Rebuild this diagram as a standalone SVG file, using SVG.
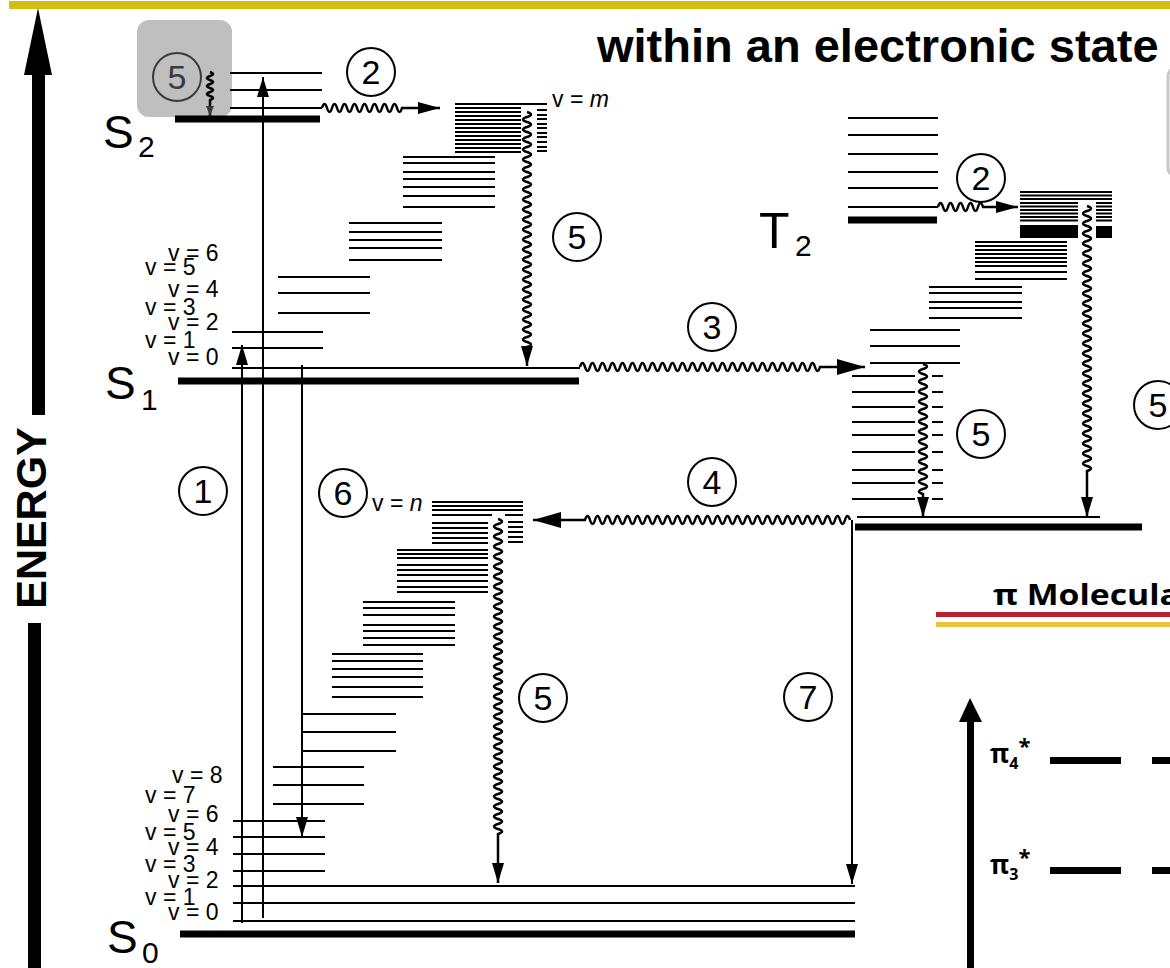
<svg xmlns="http://www.w3.org/2000/svg" width="1170" height="968" viewBox="0 0 1170 968">
<defs>
<style>
.lv{stroke:#000;stroke-width:2;fill:none}
.dn{stroke:#000;stroke-width:2.2;fill:none}
.tk{stroke:#000;stroke-width:7;fill:none}
.wv{stroke:#000;stroke-width:2.5;fill:none}
.ar{stroke:#000;stroke-width:2;fill:none}
.ci{fill:none;stroke:#000;stroke-width:2}
.num{font-family:'Liberation Sans',Arial,sans-serif;font-size:34px;text-anchor:middle;fill:#000}
.vl{font-family:'Liberation Sans',Arial,sans-serif;font-size:23px;fill:#000}
.st{font-family:'Liberation Sans',Arial,sans-serif;font-size:46px;fill:#000}
.sb{font-size:30px}
.hd{font-family:'Liberation Sans',Arial,sans-serif;font-weight:bold;fill:#000}
.pi{font-family:'Open Sans','Noto Sans',sans-serif;font-weight:bold;fill:#000}
</style>
<marker id="a20" viewBox="0 0 20 12" refX="20" refY="6" markerWidth="20" markerHeight="12" markerUnits="userSpaceOnUse" orient="auto"><path d="M0 0L20 6L0 12z" fill="#000"/></marker>
<marker id="a22" viewBox="0 0 22 12" refX="22" refY="6" markerWidth="22" markerHeight="12" markerUnits="userSpaceOnUse" orient="auto"><path d="M0 0L22 6L0 12z" fill="#000"/></marker>
<marker id="a28" viewBox="0 0 28 16" refX="28" refY="8" markerWidth="28" markerHeight="16" markerUnits="userSpaceOnUse" orient="auto"><path d="M0 0L28 8L0 16z" fill="#000"/></marker>
<marker id="a10" viewBox="0 0 10 8" refX="10" refY="4" markerWidth="10" markerHeight="8" markerUnits="userSpaceOnUse" orient="auto"><path d="M0 0L10 4L0 8z" fill="#3a3a3a"/></marker>
</defs>
<rect x="0" y="0" width="1170" height="968" fill="#fff"/>
<rect x="9" y="1" width="1161" height="8" fill="#d4be10"/>

<g id="energy-axis">
<polygon points="38,8 52,75 24,75" fill="#000"/>
<rect x="32" y="74" width="13" height="341" fill="#000"/>
<rect x="28" y="623" width="13" height="345" fill="#000"/>
<text class="hd" font-size="43" text-anchor="middle" transform="translate(46,518) rotate(-90)">ENERGY</text>
</g>

<text id="title" class="hd" x="597" y="62" font-size="47">within an electronic state</text>

<rect id="edge-box" x="1168" y="68" width="30" height="108" rx="8" fill="#fff" stroke="#c8c8c8" stroke-width="3"/>

<g id="S2">
<rect x="137" y="20" width="95" height="97" rx="12" fill="#bfbfbf"/>
<path class="lv" d="M230 73H322M230 90H322M230 108H322"/>
<path class="tk" d="M175 119H320"/>
<text class="st" x="103" y="148">S<tspan class="sb" x="138" y="157">2</tspan></text>
</g>

<g id="S1">
<path class="dn" stroke-width="3" d="M455 104H547"/>
<path class="dn" d="M455 108H521M455 112H521M455 116H521M455 120H521M455 124H521M455 128H521M455 132H521M455 136H521M455 140H521M455 144H521M455 148H521M455 152H521"/>
<path class="dn" d="M537 110H547M537 115H547M537 119H547M537 124H547M537 128H547M537 133H547M537 137H547M537 142H547M537 147H547M537 151H547"/>
<path class="lv" d="M403 157H495M403 163H495M403 172H495M403 179H495M403 187H495M403 196H495M403 207H495"/>
<path class="lv" d="M349 223H442M349 232H442M349 240H442M349 248H442M349 260H442"/>
<path class="lv" d="M278 277H370M278 293H370M278 313H370"/>
<path class="lv" d="M232 332H323M232 348H323M232 368H580"/>
<path class="tk" d="M178 381H579"/>
<text class="st" x="105" y="399">S<tspan class="sb" x="141" y="410">1</tspan></text>
<text class="vl" x="168" y="261">v = 6</text>
<text class="vl" x="145" y="275">v = 5</text>
<text class="vl" x="168" y="297">v = 4</text>
<text class="vl" x="145" y="315">v = 3</text>
<text class="vl" x="168" y="330">v = 2</text>
<text class="vl" x="145" y="348">v = 1</text>
<text class="vl" x="168" y="365">v = 0</text>
<text class="vl" x="552" y="107">v = <tspan font-style="italic">m</tspan></text>
</g>

<g id="S0">
<path class="dn" d="M432 502H523M432 506H523M432 510H523"/>
<path class="dn" stroke-width="3" d="M432 515H492M505 515H523"/>
<path class="dn" d="M432 523H488M432 528H488M432 533H488M432 538H488M432 543H488M508 522H523M508 527H523M508 532H523M508 537H523M508 542H523"/>
<path class="dn" d="M397 550H488M397 554H488M397 558H488M397 565H488M397 570H488M397 575H488M397 581H488M397 587H488M397 592H488"/>
<path class="lv" d="M363 602H455M363 608H455M363 615H455M363 625H455M363 631H455M363 638H455M363 645H455"/>
<path class="lv" d="M332 654H423M332 661H423M332 669H423M332 677H423M332 687H423M332 697H423"/>
<path class="lv" d="M303 714H396M303 732H396M303 751H396"/>
<path class="lv" d="M273 767H364M273 785H364M273 804H364"/>
<path class="lv" d="M233 821H325M233 837H325M233 854H325M233 871H325"/>
<path class="lv" d="M233 886H855M233 903H855M233 921H855"/>
<path class="tk" d="M180 934H855"/>
<text class="st" x="107" y="953">S<tspan class="sb" x="142" y="963">0</tspan></text>
<text class="vl" x="172" y="783">v = 8</text>
<text class="vl" x="145" y="803">v = 7</text>
<text class="vl" x="168" y="822">v = 6</text>
<text class="vl" x="145" y="840">v = 5</text>
<text class="vl" x="168" y="855">v = 4</text>
<text class="vl" x="145" y="872">v = 3</text>
<text class="vl" x="168" y="888">v = 2</text>
<text class="vl" x="145" y="905">v = 1</text>
<text class="vl" x="168" y="920">v = 0</text>
<text class="vl" x="372" y="511">v = <tspan font-style="italic">n</tspan></text>
</g>

<g id="T2">
<path class="lv" d="M848 118H938M848 135H938M848 154H938M848 172H938M848 188H938M848 207H938"/>
<path class="tk" stroke-width="8" d="M848 220H937"/>
<text class="st" x="759" y="248" style="font-size:50px">T<tspan class="sb" x="795" y="256">2</tspan></text>
</g>

<g id="T1">
<path class="dn" d="M1020 192H1112M1020 195.5H1112M1020 199H1112"/>
<path class="dn" d="M1020 203H1078M1020 206.5H1078M1020 210H1078M1020 213.5H1078M1020 217H1078M1020 220.5H1078M1096 203H1112M1096 206.5H1112M1096 210H1112M1096 213.5H1112M1096 217H1112M1096 220.5H1112"/>
<rect x="1020" y="225" width="58" height="13" fill="#000"/>
<rect x="1096" y="226" width="16" height="12" fill="#000"/>
<path class="dn" d="M975 242H1067M975 246H1067M975 250H1067M975 254H1067M975 258H1067M975 262H1067M975 266H1067M975 272H1067M975 279H1067"/>
<path class="lv" d="M929 287H1022M929 293H1022M929 302H1022M929 308H1022M929 318H1022"/>
<path class="lv" d="M870 330H960M870 346H960M870 363H960"/>
<path class="lv" d="M852 376H915M852 392H915M852 407H915M852 422H915M852 435H915M852 452H915M852 470H915M852 483H915M852 499H915"/>
<path class="lv" d="M932 376H943M932 392H943M932 407H943M932 422H943M932 435H943M932 452H943M932 470H943M932 483H943M932 499H943"/>
<path class="lv" d="M857 517H1100"/>
<path class="tk" d="M855 527H1142"/>
</g>

<g id="connectors">
<path class="ar" marker-end="url(#a20)" d="M242 923V345"/>
<path class="ar" marker-end="url(#a20)" d="M263 918V77"/>
<path class="ar" marker-end="url(#a20)" d="M302 365V837"/>
<path class="ar" marker-end="url(#a20)" d="M852 520V884"/>
<path class="wv" stroke="#3a3a3a" stroke-width="2" marker-end="url(#a10)" d="M210 72q6 2 0 4t0 4t0 4t0 4t0 4t0 4t0 4L210 116"/>
<path class="wv" marker-end="url(#a22)" d="M322 108q2.5 -8 5 0t5 0t5 0t5 0t5 0t5 0t5 0t5 0t5 0t5 0t5 0t5 0t5 0t5 0t5 0t5 0L440 108"/>
<path class="wv" marker-end="url(#a20)" d="M527 112q8 2.5 0 5t0 5t0 5t0 5t0 5t0 5t0 5t0 5t0 5t0 5t0 5t0 5t0 5t0 5t0 5t0 5t0 5t0 5t0 5t0 5t0 5t0 5t0 5t0 5t0 5t0 5t0 5t0 5t0 5t0 5t0 5t0 5t0 5t0 5t0 5t0 5t0 5t0 5t0 5t0 5t0 5t0 5t0 5t0 5t0 5t0 5t0 5L527 366"/>
<path class="wv" marker-end="url(#a28)" d="M580 367q2.5 -8 5 0t5 0t5 0t5 0t5 0t5 0t5 0t5 0t5 0t5 0t5 0t5 0t5 0t5 0t5 0t5 0t5 0t5 0t5 0t5 0t5 0t5 0t5 0t5 0t5 0t5 0t5 0t5 0t5 0t5 0t5 0t5 0t5 0t5 0t5 0t5 0t5 0t5 0t5 0t5 0t5 0t5 0t5 0t5 0t5 0t5 0t5 0t5 0L865 367"/>
<path class="wv" marker-end="url(#a22)" d="M938 207q2.5 -8 5 0t5 0t5 0t5 0t5 0t5 0t5 0t5 0t5 0L1018 207"/>
<path class="wv" marker-end="url(#a20)" d="M923 364q8 2.5 0 5t0 5t0 5t0 5t0 5t0 5t0 5t0 5t0 5t0 5t0 5t0 5t0 5t0 5t0 5t0 5t0 5t0 5t0 5t0 5t0 5t0 5t0 5t0 5t0 5t0 5L923 517"/>
<path class="wv" marker-end="url(#a20)" d="M1087 206q8 2.5 0 5t0 5t0 5t0 5t0 5t0 5t0 5t0 5t0 5t0 5t0 5t0 5t0 5t0 5t0 5t0 5t0 5t0 5t0 5t0 5t0 5t0 5t0 5t0 5t0 5t0 5t0 5t0 5t0 5t0 5t0 5t0 5t0 5t0 5t0 5t0 5t0 5t0 5t0 5t0 5t0 5t0 5t0 5t0 5t0 5t0 5t0 5t0 5t0 5t0 5t0 5t0 5t0 5L1087 517"/>
<path class="wv" marker-end="url(#a28)" d="M850 520q-2.5 -8 -5 0t-5 0t-5 0t-5 0t-5 0t-5 0t-5 0t-5 0t-5 0t-5 0t-5 0t-5 0t-5 0t-5 0t-5 0t-5 0t-5 0t-5 0t-5 0t-5 0t-5 0t-5 0t-5 0t-5 0t-5 0t-5 0t-5 0t-5 0t-5 0t-5 0t-5 0t-5 0t-5 0t-5 0t-5 0t-5 0t-5 0t-5 0t-5 0t-5 0t-5 0t-5 0t-5 0t-5 0t-5 0t-5 0t-5 0t-5 0t-5 0t-5 0t-5 0t-5 0t-5 0L533 520"/>
<path class="wv" marker-end="url(#a20)" d="M498 519q8 2.5 0 5t0 5t0 5t0 5t0 5t0 5t0 5t0 5t0 5t0 5t0 5t0 5t0 5t0 5t0 5t0 5t0 5t0 5t0 5t0 5t0 5t0 5t0 5t0 5t0 5t0 5t0 5t0 5t0 5t0 5t0 5t0 5t0 5t0 5t0 5t0 5t0 5t0 5t0 5t0 5t0 5t0 5t0 5t0 5t0 5t0 5t0 5t0 5t0 5t0 5t0 5t0 5t0 5t0 5t0 5t0 5t0 5t0 5t0 5t0 5t0 5t0 5t0 5L498 883"/>
</g>

<g id="process-labels">
<g id="p5-gray"><circle cx="177" cy="77" r="24" fill="none" stroke="#3a3a3a" stroke-width="2"/><text class="num" x="177" y="89" style="fill:#3a3a3a">5</text></g>
<g id="p2-S"><circle class="ci" cx="371" cy="72" r="24"/><text class="num" x="371" y="84">2</text></g>
<g id="p5-S1"><circle class="ci" cx="577" cy="237" r="24"/><text class="num" x="577" y="249">5</text></g>
<g id="p3"><circle class="ci" cx="712" cy="327" r="24"/><text class="num" x="712" y="339">3</text></g>
<g id="p2-T"><circle class="ci" cx="981" cy="178" r="24"/><text class="num" x="981" y="190">2</text></g>
<g id="p5-T1"><circle class="ci" cx="981" cy="434" r="24"/><text class="num" x="981" y="446">5</text></g>
<g id="p5-T2"><circle class="ci" cx="1158" cy="405" r="24"/><text class="num" x="1158" y="417">5</text></g>
<g id="p1"><circle class="ci" cx="203" cy="491" r="24"/><text class="num" x="203" y="503">1</text></g>
<g id="p6"><circle class="ci" cx="343" cy="493" r="24"/><text class="num" x="343" y="505">6</text></g>
<g id="p4"><circle class="ci" cx="712" cy="482" r="24"/><text class="num" x="712" y="494">4</text></g>
<g id="p5-S0"><circle class="ci" cx="543" cy="698" r="24"/><text class="num" x="543" y="710">5</text></g>
<g id="p7"><circle class="ci" cx="808" cy="697" r="24"/><text class="num" x="808" y="709">7</text></g>
</g>

<g id="pi-orbitals">
<text class="pi" x="993" y="605" font-size="28" textLength="187" lengthAdjust="spacingAndGlyphs">π Molecula</text>
<rect x="936" y="612" width="234" height="5" fill="#b82030"/>
<rect x="936" y="622" width="234" height="5" fill="#e8c23a"/>
<rect x="967" y="720" width="7" height="248" fill="#000"/>
<polygon points="970,698 982,722 959,722" fill="#000"/>
<text class="pi" x="990" y="763" font-size="26">π<tspan font-size="16" dy="6">4</tspan><tspan font-size="22" dy="-15">*</tspan></text>
<rect x="1050" y="757" width="71" height="7" fill="#000"/>
<rect x="1152" y="757" width="20" height="7" fill="#000"/>
<text class="pi" x="990" y="874" font-size="26">π<tspan font-size="16" dy="6">3</tspan><tspan font-size="22" dy="-15">*</tspan></text>
<rect x="1050" y="867" width="71" height="7" fill="#000"/>
<rect x="1152" y="867" width="20" height="7" fill="#000"/>
</g>
</svg>
